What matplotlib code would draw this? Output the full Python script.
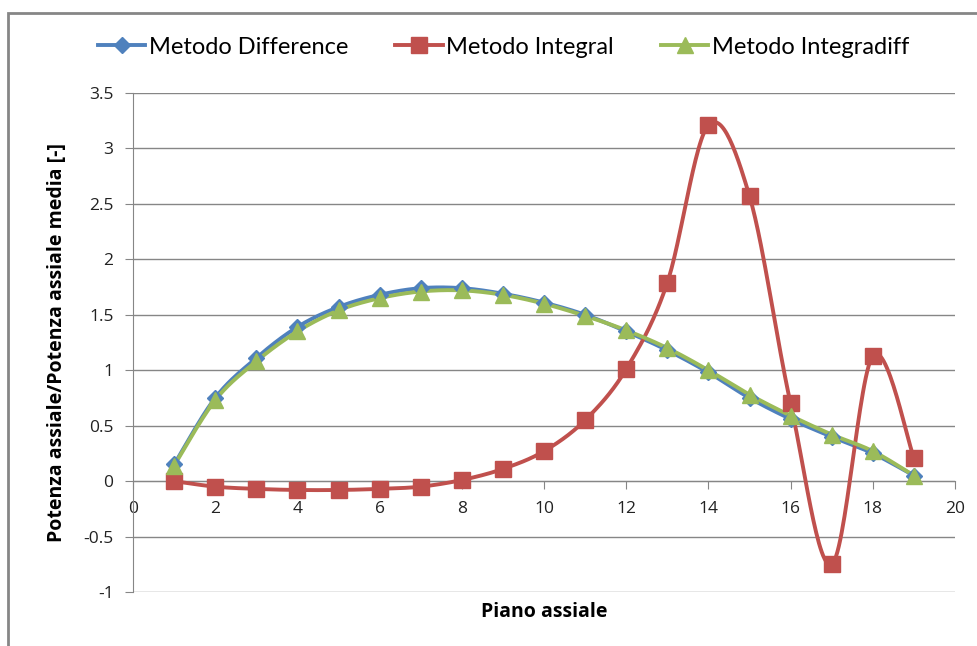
import numpy as np
import matplotlib.pyplot as plt
from matplotlib.patches import Rectangle

# Dati
piano = [1, 2, 3, 4, 5, 6, 7, 8, 9, 10, 11, 12, 13, 14, 15, 16, 17, 18, 19]
difference = [0.15, 0.75, 1.11, 1.39, 1.57, 1.68, 1.74, 1.74, 1.69, 1.61,
              1.50, 1.35, 1.18, 0.98, 0.75, 0.56, 0.40, 0.25, 0.05]
integral = [0.0, -0.05, -0.07, -0.08, -0.08, -0.07, -0.05, 0.01, 0.11, 0.27,
            0.55, 1.01, 1.79, 3.21, 2.57, 0.70, -0.75, 1.13, 0.21]
integradiff = [0.14, 0.73, 1.08, 1.35, 1.54, 1.65, 1.71, 1.72, 1.68, 1.60,
               1.49, 1.36, 1.20, 1.00, 0.78, 0.59, 0.42, 0.27, 0.05]

plt.rcParams['font.family'] = ['Open Sans', 'DejaVu Sans']


# curva smussata tipo Excel (Bezier con punti di controllo Catmull-Rom)
def smooth(x, y, n=30):
    x = np.asarray(x, float)
    y = np.asarray(y, float)
    px = np.concatenate([[x[0]], x, [x[-1]]])
    py = np.concatenate([[y[0]], y, [y[-1]]])
    xs, ys = [], []
    t = np.linspace(0, 1, n)
    for i in range(1, len(px) - 2):
        p0 = np.array([px[i], py[i]])
        p3 = np.array([px[i + 1], py[i + 1]])
        p1 = p0 + (np.array([px[i + 1], py[i + 1]]) - np.array([px[i - 1], py[i - 1]])) / 6
        p2 = p3 - (np.array([px[i + 2], py[i + 2]]) - np.array([px[i], py[i]])) / 6
        b = ((1 - t) ** 3)[:, None] * p0 + (3 * (1 - t) ** 2 * t)[:, None] * p1 \
            + (3 * (1 - t) * t ** 2)[:, None] * p2 + (t ** 3)[:, None] * p3
        xs.extend(b[:, 0])
        ys.extend(b[:, 1])
    return xs, ys


fig = plt.figure(figsize=(9.78, 6.46), dpi=100)
ax = fig.add_axes([0.136, 0.0836, 0.8405, 0.7724])

# cornice del grafico
fig.patches.append(Rectangle((8 / 978, -0.1), 1.2, 1 - 13 / 646 + 0.1,
                             transform=fig.transFigure, fill=False,
                             edgecolor='#868686', linewidth=2))

serie = [
    (difference, '#4F81BD', 'D', 8.5, 'Metodo Difference'),
    (integral, '#C0504D', 's', 12, 'Metodo Integral'),
    (integradiff, '#9BBB59', '^', 12, 'Metodo Integradiff'),
]
for vals, col, mk, ms, lab in serie:
    sx, sy = smooth(piano, vals)
    ax.plot(sx, sy, color=col, linewidth=2.8, zorder=3)
    ax.plot(piano, vals, linestyle='none', marker=mk, markersize=ms,
            color=col, zorder=4)
    ax.plot([], [], color=col, linewidth=2.8, marker=mk, markersize=ms, label=lab)

ax.set_xlim(0, 20)
ax.set_ylim(-1, 3.5)
ax.set_xticks(np.arange(0, 21, 2))
ax.set_yticks(np.arange(-1, 3.6, 0.5))
ax.set_yticklabels(['-1', '-0.5', '0', '0.5', '1', '1.5', '2', '2.5', '3', '3.5'])
ax.yaxis.grid(True, color='#868686', linewidth=1)
ax.set_axisbelow(True)

for s in ['top', 'right']:
    ax.spines[s].set_visible(False)
ax.spines['bottom'].set_position(('data', 0))
ax.spines['bottom'].set_color('#868686')
ax.spines['left'].set_color('#868686')
ax.tick_params(axis='both', colors='#868686', labelcolor='#222222',
               labelsize=12.5, length=6, direction='out')
ax.tick_params(axis='y', pad=8)
ax.tick_params(axis='x', pad=8)

ax.set_xlabel('Piano assiale', fontsize=14, fontweight='bold')
ax.xaxis.set_label_coords(0.5, -0.02)
ax.set_ylabel('Potenza assiale/Potenza assiale media [-]', fontsize=14,
              fontweight='bold')
ax.yaxis.set_label_coords(-0.08, 0.5)

fig.legend(loc='center', bbox_to_anchor=(0.515, 1 - 47 / 646), ncol=3,
           frameon=False, prop={'family': ['Lato', 'DejaVu Sans'], 'size': 17},
           handlelength=2.0, columnspacing=2.0, handletextpad=0.15)

fig.savefig('out.png', dpi=100)
